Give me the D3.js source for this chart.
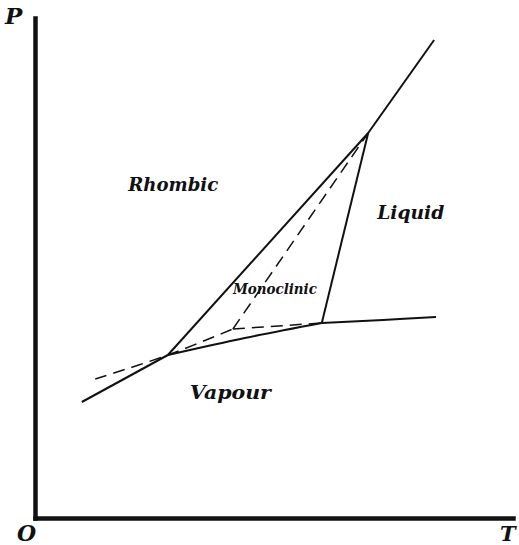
<!DOCTYPE html>
<html>
<head>
<meta charset="utf-8">
<script src="https://cdn.jsdelivr.net/npm/d3@7"></script>
<style>
  body { margin: 0; background: #fff; }
  .lbl { font-family: 'DejaVu Serif', serif; font-weight: bold; font-style: italic; fill: #111; }
</style>
</head>
<body>
<svg width="519" height="545"></svg>
<script>
//phase diagram data (T, P in arbitrary units 0..100)
const rhombicVapour = [[9.8, 23.2], [27.8, 32.6]];
const monoclinicVapour = [[27.8, 32.6], [43.9, 36.0], [60.0, 39.0]];
const liquidVapour = [[60.0, 39.0], [72.8, 39.6], [83.9, 40.2]];
const rhombicMonoclinic = [[27.8, 32.6], [69.7, 77.0]];
const monoclinicLiquid = [[60.0, 39.0], [69.7, 77.0]];
const rhombicLiquid = [[69.7, 77.0], [83.5, 95.6]];
//metastable (dashed) curves
const metaVapour = [[12.6, 27.8], [27.8, 32.6], [41.4, 37.8]];
const metaToLiquid = [[41.4, 37.8], [60.0, 39.0]];
const metaToTriple = [[41.4, 37.8], [69.7, 77.0]];

const regionLabels = [
  { name: 'Rhombic', t: 19.5, p: 65.4, size: 19, len: 90 },
  { name: 'Liquid', t: 71.6, p: 59.8, size: 19, len: 67 },
  { name: 'Monoclinic', t: 41.4, p: 44.8, size: 15, len: 84 },
  { name: 'Vapour', t: 32.4, p: 23.8, size: 19, len: 81 }
];

const svg = d3.select('svg');

const xScale = d3.scaleLinear().domain([0, 100]).range([35, 513]);
const yScale = d3.scaleLinear().domain([0, 100]).range([518, 18]);

const xAxisG = svg.append('g')
  .attr('transform', `translate(0, ${yScale(0)})`)
  .call(d3.axisBottom(xScale).ticks(0).tickSizeOuter(0));
const yAxisG = svg.append('g')
  .attr('transform', `translate(${xScale(0)}, 0)`)
  .call(d3.axisLeft(yScale).ticks(0).tickSizeOuter(0));
[xAxisG, yAxisG].forEach(g => g.select('.domain')
  .attr('stroke', '#111').attr('stroke-width', 4.5).attr('stroke-linecap', 'square'));

const line = d3.line().x(d => xScale(d[0])).y(d => yScale(d[1])).curve(d3.curveCatmullRom);

const solid = [rhombicVapour, monoclinicVapour, liquidVapour, rhombicMonoclinic, monoclinicLiquid, rhombicLiquid];
svg.selectAll('path.solid').data(solid)
  .enter().append('path')
    .attr('class', 'solid')
    .attr('d', line)
    .attr('fill', 'none')
    .attr('stroke', '#111')
    .attr('stroke-width', 2);

const dashed = [metaVapour, metaToLiquid, metaToTriple];
svg.selectAll('path.dashed').data(dashed)
  .enter().append('path')
    .attr('class', 'dashed')
    .attr('d', line)
    .attr('fill', 'none')
    .attr('stroke', '#111')
    .attr('stroke-width', 1.5)
    .attr('stroke-dasharray', '12,7');

svg.selectAll('text.region').data(regionLabels)
  .enter().append('text')
    .attr('class', 'lbl region')
    .attr('x', d => xScale(d.t))
    .attr('y', d => yScale(d.p))
    .attr('font-size', d => d.size)
    .attr('textLength', d => d.len)
    .attr('lengthAdjust', 'spacingAndGlyphs')
    .text(d => d.name);

//axis letters
svg.append('text').attr('class', 'lbl').attr('x', 5).attr('y', 24).attr('font-size', 23).text('P');
svg.append('text').attr('class', 'lbl').attr('x', 17).attr('y', 541).attr('font-size', 22).text('O');
svg.append('text').attr('class', 'lbl').attr('x', 500).attr('y', 541).attr('font-size', 21).text('T');
</script>
</body>
</html>
